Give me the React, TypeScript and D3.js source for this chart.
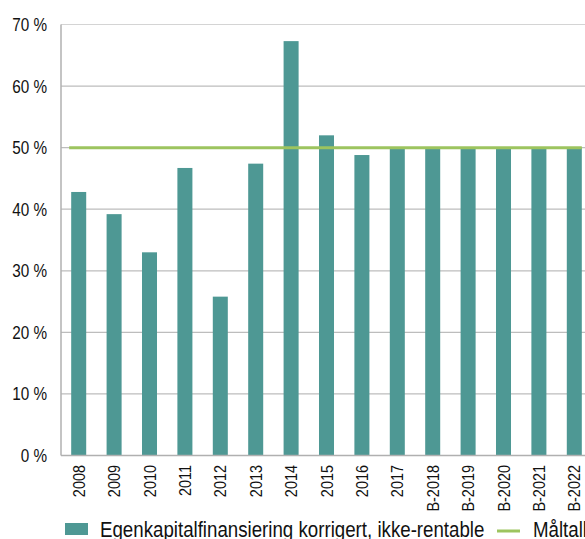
import React from "react";
import * as d3 from "d3";

const categories = ["2008", "2009", "2010", "2011", "2012", "2013", "2014", "2015", "2016", "2017", "B-2018", "B-2019", "B-2020", "B-2021", "B-2022"];
const equityShare = [42.8, 39.2, 33.0, 46.7, 25.8, 47.4, 67.3, 52.0, 48.8, 50.0, 50.0, 50.0, 50.0, 50.0, 50.0];
const targetValue = [50];
const yTicks = [0, 10, 20, 30, 40, 50, 60, 70];
const seriesNames = ["Egenkapitalfinansiering korrigert, ikke-rentable", "Måltall"];

const W = 585;
const H = 539;
const left = 61;
const right = 592;
const top = 24.5;
const bottom = 455.5;
const barColor = "#4e9894";
const lineColor = "#9dc45f";
const font = "'Liberation Sans', Arial, sans-serif";
const cond = 0.85;

export default function App() {
  const x = d3.scaleBand<string>().domain(categories).range([left, right]).paddingInner(0.576).paddingOuter(0.288);
  const y = d3.scaleLinear().domain([0, 70]).range([bottom, top]);
  const bw = x.bandwidth();
  const lineX1 = (x(categories[0]) as number) - 2;
  const lineX2 = (x(categories[categories.length - 1]) as number) + bw;
  return (
    <svg width={W} height={H} style={{ position: "absolute", left: 0, top: 0 }} fontFamily={font}>
      {yTicks.map((t) => (
        <g key={t}>
          {t > 0 && (
            <line x1={left} x2={W} y1={y(t)} y2={y(t)} stroke={t === 70 ? "#d4d4d4" : "#bdbdbd"} strokeWidth={1.2} />
          )}
          <text transform={`translate(47,${y(t)}) scale(${cond},1)`} dy="0.36em" textAnchor="end" fontSize={18} fill="#111">
            {t} %
          </text>
        </g>
      ))}
      {categories.map((c, i) => (
        <rect key={c} x={x(c)} y={y(equityShare[i])} width={bw} height={y(0) - y(equityShare[i])} fill={barColor} />
      ))}
      <line x1={lineX1} x2={lineX2} y1={y(targetValue[0])} y2={y(targetValue[0])} stroke={lineColor} strokeWidth={3} />
      <line x1={left} x2={left} y1={top} y2={bottom} stroke="#b0b0b0" strokeWidth={1.5} />
      <line x1={left} x2={W} y1={bottom} y2={bottom} stroke="#b0b0b0" strokeWidth={1.5} />
      {categories.map((c) => {
        const cx = (x(c) as number) + bw / 2;
        return (
          <text key={c} transform={`translate(${cx + 6},${465}) rotate(-90) scale(${cond},1)`} textAnchor="end" fontSize={17} fill="#111">
            {c}
          </text>
        );
      })}
      <rect x={65} y={523} width={23} height={12} fill={barColor} />
      <text transform={`translate(100,537) scale(${cond},1)`} fontSize={22} fill="#111">{seriesNames[0]}</text>
      <line x1={497} x2={520} y1={531} y2={531} stroke={lineColor} strokeWidth={3} />
      <text transform={`translate(533,537) scale(${cond},1)`} fontSize={22} fill="#111">{seriesNames[1]}</text>
    </svg>
  );
}
